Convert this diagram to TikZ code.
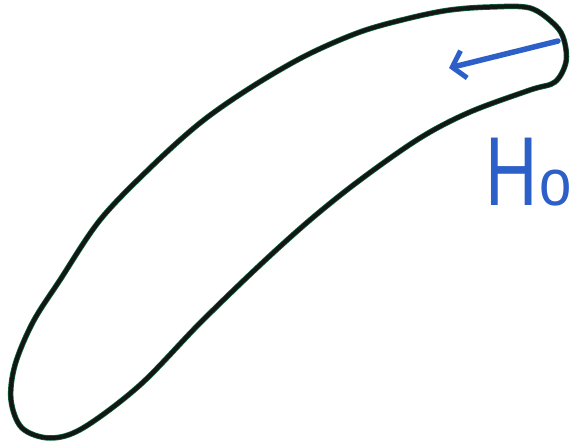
\documentclass[tikz,border=0pt]{standalone}
\usepackage{fontspec}
\setmainfont{Liberation Sans}
\usetikzlibrary{arrows.meta}
\definecolor{penblue}{RGB}{45,95,200}
\definecolor{pengreen}{RGB}{15,100,60}
\definecolor{penblack}{RGB}{18,22,20}
\tikzset{
  outline/.style={line width=5.5pt, line join=round, line cap=round, pengreen},
  outlinecore/.style={line width=4pt, line join=round, line cap=round, penblack},
  field/.style={line width=5.5pt, penblue, line cap=round, -{Straight Barb[length=12pt,width=28pt,line width=5pt]}},
  lbl/.style={text=penblue, inner sep=0pt}
}
\begin{document}
\begin{tikzpicture}[x=1pt,y=-1pt]
\useasboundingbox[fill=white] (0,0) rectangle (573,446);
\def\shape{plot[smooth cycle, tension=0.55] coordinates {
 (555,25) (530,8) (490,7) (450,10) (410,18) (360,32) (305,56) (250,88) (200,123)
 (150,168) (100,220) (60,280) (33,322) (15,365) (11,400) (22,428) (50,438)
 (83,428) (140,385) (200,323) (260,265) (310,220) (360,180) (420,138) (470,112)
 (530,90) (555,82) (566,62) (564,40)}}
\draw[outline] \shape;
\draw[outlinecore] \shape;
\coordinate (tail) at (558,41);
\coordinate (head) at (449,68);
\draw[field] (tail) -- (head);
\node[lbl, anchor=base west] (H) at (485,206)
  {\scalebox{0.74}[1]{\fontsize{98}{98}\selectfont H}\hspace{2pt}\scalebox{0.88}[1]{\fontsize{66}{66}\selectfont o}};
\end{tikzpicture}
\end{document}
